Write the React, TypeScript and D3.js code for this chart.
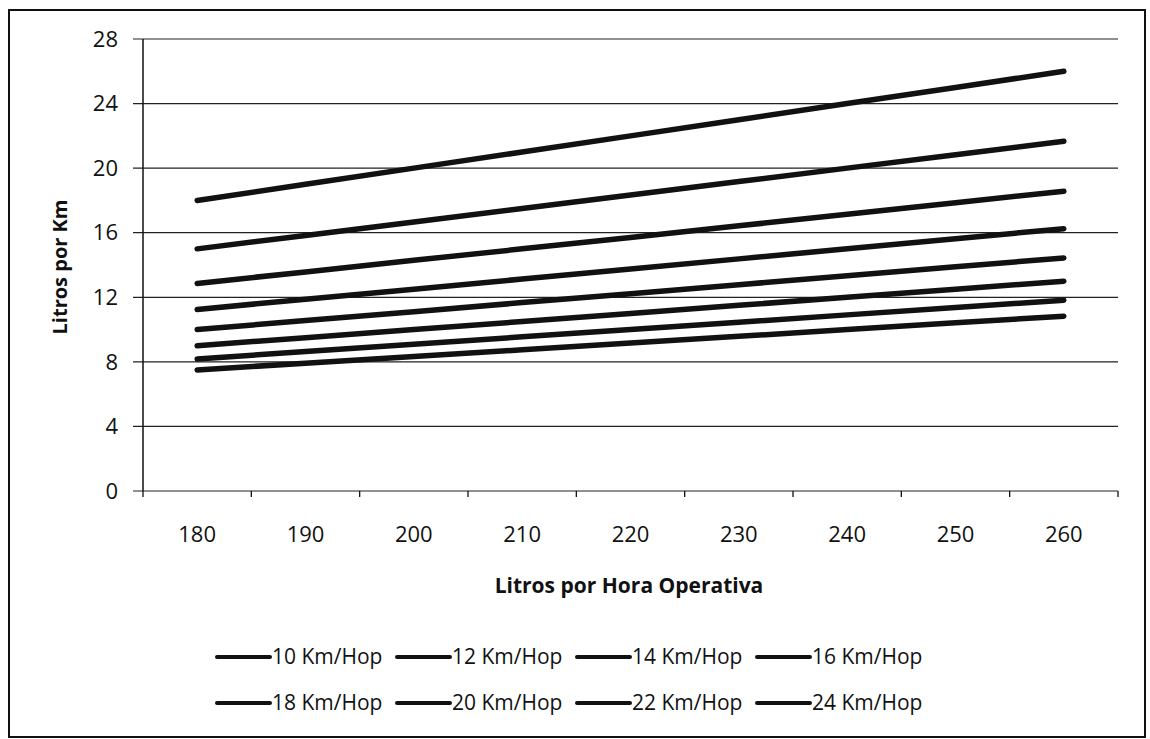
import React from "react";
import * as d3 from "d3";

const categories = [180, 190, 200, 210, 220, 230, 240, 250, 260];
const yTicks = [0, 4, 8, 12, 16, 20, 24, 28];

const s10 = [18, 19, 20, 21, 22, 23, 24, 25, 26];
const s12 = [15, 15.83, 16.67, 17.5, 18.33, 19.17, 20, 20.83, 21.67];
const s14 = [12.86, 13.57, 14.29, 15, 15.71, 16.43, 17.14, 17.86, 18.57];
const s16 = [11.25, 11.88, 12.5, 13.13, 13.75, 14.38, 15, 15.63, 16.25];
const s18 = [10, 10.56, 11.11, 11.67, 12.22, 12.78, 13.33, 13.89, 14.44];
const s20 = [9, 9.5, 10, 10.5, 11, 11.5, 12, 12.5, 13];
const s22 = [8.18, 8.64, 9.09, 9.55, 10, 10.45, 10.91, 11.36, 11.82];
const s24 = [7.5, 7.92, 8.33, 8.75, 9.17, 9.58, 10, 10.42, 10.83];

const seriesNames = [
  "10 Km/Hop", "12 Km/Hop", "14 Km/Hop", "16 Km/Hop",
  "18 Km/Hop", "20 Km/Hop", "22 Km/Hop", "24 Km/Hop",
];
const seriesValues = [s10, s12, s14, s16, s18, s20, s22, s24];

const FONT = "'Open Sans', 'Noto Sans', sans-serif";

export default function App() {
  const left = 143, right = 1118, top = 39, bottom = 491;
  const x = d3.scaleBand<number>().domain(categories).range([left, right]).padding(0);
  const y = d3.scaleLinear().domain([0, 28]).range([bottom, top]);
  const bw = x.bandwidth();
  const cx = (c: number) => (x(c) as number) + bw / 2;
  const line = d3
    .line<number>()
    .x((_, i) => cx(categories[i]))
    .y((v) => y(v));

  const boundaries = categories.map((c) => x(c) as number).concat([right]);

  const legendRows = [0, 1];
  const legendX0 = 217;
  const legendStep = 180;
  const legendY = [657, 703];

  return (
    <svg
      width={1150}
      height={739}
      style={{ position: "absolute", left: 0, top: 0, background: "#fff" }}
    >
      <rect x={0} y={0} width={1150} height={739} fill="#fff" />
      <rect x={9} y={10} width={1136} height={727} fill="none" stroke="#111" strokeWidth={2} />

      {/* gridlines */}
      {yTicks.map((t) => (
        <line key={"g" + t} x1={left - 10} x2={right} y1={y(t)} y2={y(t)} stroke="#222" strokeWidth={1.2} />
      ))}
      {/* y axis */}
      <line x1={left} x2={left} y1={top} y2={bottom} stroke="#111" strokeWidth={1.5} />
      {/* x ticks */}
      {boundaries.map((b, i) => (
        <line key={"xt" + i} x1={b} x2={b} y1={bottom} y2={bottom + 6} stroke="#111" strokeWidth={1.3} />
      ))}

      {/* y tick labels */}
      {yTicks.map((t) => (
        <text key={"yl" + t} x={118} y={y(t)} dy="0.35em" textAnchor="end" fontFamily={FONT} fontSize={22} fill="#111">
          {t}
        </text>
      ))}
      {/* x tick labels */}
      {categories.map((c) => (
        <text key={"xl" + c} x={cx(c)} y={542} textAnchor="middle" fontFamily={FONT} fontSize={22} fill="#111">
          {c}
        </text>
      ))}

      {/* series lines */}
      {seriesValues.map((vals, i) => (
        <path key={"s" + i} d={line(vals) || ""} fill="none" stroke="#111" strokeWidth={5.5} strokeLinecap="round" />
      ))}

      {/* axis titles */}
      <text
        transform={`translate(67, 267) rotate(-90)`}
        textAnchor="middle"
        fontFamily={FONT}
        fontWeight="bold"
        fontSize={20}
        fill="#111"
      >
        Litros por Km
      </text>
      <text x={629} y={593} textAnchor="middle" fontFamily={FONT} fontWeight="bold" fontSize={21} fill="#111">
        Litros por Hora Operativa
      </text>

      {/* legend */}
      {legendRows.map((r) =>
        [0, 1, 2, 3].map((k) => {
          const idx = r * 4 + k;
          const lx = legendX0 + k * legendStep;
          const ly = legendY[r];
          return (
            <g key={"lg" + idx}>
              <line x1={lx} x2={lx + 53} y1={ly} y2={ly} stroke="#111" strokeWidth={4} strokeLinecap="round" />
              <text x={lx + 55} y={ly} dy="0.35em" fontFamily={FONT} fontSize={21} fill="#111">
                {seriesNames[idx]}
              </text>
            </g>
          );
        })
      )}
    </svg>
  );
}
